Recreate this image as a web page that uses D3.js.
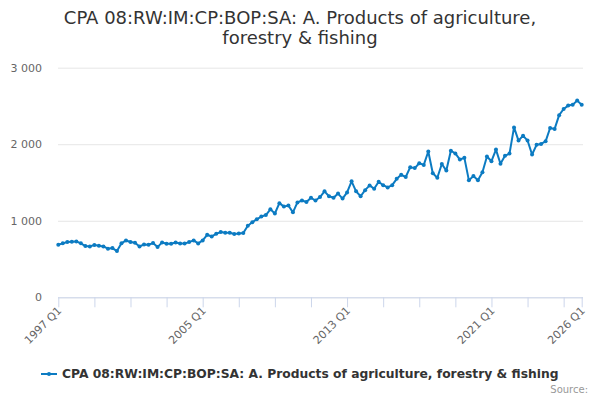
<!DOCTYPE html>
<html lang="en">
<head>
  <meta charset="UTF-8">
  <title>CPA 08:RW:IM:CP:BOP:SA: A. Products of agriculture, forestry &amp; fishing</title>
  <script src="https://d3js.org/d3.v7.min.js"></script>
  <style>
    body { margin: 0; background: #fff; }
    svg { font-family: "DejaVu Sans", Verdana, sans-serif; display: block; }
  </style>
</head>
<body>
  <svg id="chart"></svg>

  <script>
    // Quarterly series, 1997 Q1 .. 2026 Q1
    const firstYear = 1997;
    const quarters = [];
    for (let y = firstYear; y <= 2026; y++) {
      for (let q = 1; q <= 4; q++) {
        if (y === 2026 && q > 1) break;
        quarters.push(y + " Q" + q);
      }
    }

    const values = [
      687, 705, 722, 726, 730, 705, 670, 665, 683, 674, 665, 635, 643, 604, 705, 743,
      722, 713, 665, 690, 687, 708, 656, 717, 700, 700, 717, 704, 704, 721, 743, 704,
      743, 817, 795, 830, 852, 843, 843, 826, 833, 840, 935, 980, 1020, 1055, 1075, 1150,
      1095, 1230, 1185, 1200, 1110, 1240, 1265, 1245, 1300, 1265, 1310, 1385, 1320, 1300, 1355, 1290,
      1370, 1515, 1385, 1320, 1400, 1462, 1418, 1510, 1465, 1435, 1465, 1548, 1600, 1572, 1700, 1688,
      1752, 1730, 1905, 1620, 1562, 1742, 1656, 1915, 1880, 1800, 1822, 1528, 1585, 1530, 1635, 1840,
      1778, 1930, 1745, 1848, 1878, 2220, 2048, 2112, 2048, 1866, 1992, 2004, 2038, 2212, 2200, 2380,
      2460, 2505, 2515, 2570, 2515
    ];

    const yTicks = [0, 1000, 2000, 3000];
    const xTickLabels = ["1997 Q1", "2005 Q1", "2013 Q1", "2021 Q1", "2026 Q1"];

    const seriesName = "CPA 08:RW:IM:CP:BOP:SA: A. Products of agriculture, forestry & fishing";
    const titleLines = ["CPA 08:RW:IM:CP:BOP:SA: A. Products of agriculture,", "forestry & fishing"];

    const data = quarters.map((q, i) => ({ q: q, v: values[i] }));

    const width = 600, height = 400;
    const lineColor = "#0c7bc2";

    const svg = d3.select("#chart")
      .attr("width", width)
      .attr("height", height);

    const x = d3.scalePoint()
      .domain(quarters)
      .range([58.3, 581.7]);

    const y = d3.scaleLinear()
      .domain([0, 3000])
      .range([297.3, 67.7]);

    // title
    svg.append("text")
      .attr("x", width / 2)
      .attr("y", 23.5)
      .attr("text-anchor", "middle")
      .style("font-size", "18px")
      .style("fill", "#333")
      .selectAll("tspan")
      .data(titleLines)
      .enter().append("tspan")
      .attr("x", width / 2)
      .attr("dy", (d, i) => i === 0 ? 0 : 20.5)
      .text(d => d);

    // gridlines + y labels
    const yAxis = svg.append("g")
      .attr("transform", "translate(58,0)")
      .call(d3.axisLeft(y)
        .tickValues(yTicks)
        .tickSize(-525)
        .tickPadding(16)
        .tickFormat(d => d3.format(",")(d).replace(/,/g, " ")));
    yAxis.select(".domain").remove();
    yAxis.selectAll("line").attr("stroke", "#e6e6e6");
    yAxis.selectAll("text")
      .attr("fill", "#666")
      .style("font-size", "11px")
      .style("font-family", "DejaVu Sans, sans-serif");

    // x axis: a tick every 2 years plus the last quarter
    const xTickVals = quarters.filter((q, i) => i % 8 === 0 || i === quarters.length - 1);
    const xAxis = svg.append("g")
      .attr("transform", "translate(0," + y(0) + ")")
      .call(d3.axisBottom(x)
        .tickValues(xTickVals)
        .tickSize(10)
        .tickSizeOuter(0)
        .tickFormat(""));
    xAxis.select(".domain").attr("stroke", "#ccd6eb").attr("d", "M58,0.5H583");
    xAxis.selectAll("line").attr("stroke", "#ccd6eb");

    svg.append("g")
      .selectAll("text")
      .data(xTickLabels)
      .enter().append("text")
      .attr("transform", d => "translate(" + (x(d) + 4) + "," + (y(0) + 14) + ") rotate(-45)")
      .attr("text-anchor", "end")
      .style("font-size", "11px")
      .style("fill", "#666")
      .text(d => d);

    // series
    const line = d3.line()
      .x(d => x(d.q))
      .y(d => y(d.v));

    svg.append("path")
      .datum(data)
      .attr("fill", "none")
      .attr("stroke", lineColor)
      .attr("stroke-width", 2)
      .attr("stroke-linejoin", "round")
      .attr("d", line);

    svg.append("g")
      .selectAll("circle")
      .data(data)
      .enter().append("circle")
      .attr("cx", d => x(d.q))
      .attr("cy", d => y(d.v))
      .attr("r", 2)
      .attr("fill", lineColor);

    // legend
    const legend = svg.append("g").attr("transform", "translate(41,374)");
    legend.append("line")
      .attr("x1", 0).attr("x2", 16)
      .attr("stroke", lineColor)
      .attr("stroke-width", 2);
    legend.append("circle")
      .attr("cx", 8).attr("r", 2)
      .attr("fill", lineColor);
    legend.append("text")
      .attr("x", 21)
      .attr("y", 4)
      .style("font-size", "12.3px")
      .style("font-weight", "bold")
      .style("fill", "#333")
      .text(seriesName);

    // credits
    svg.append("text")
      .attr("x", 588)
      .attr("y", 393)
      .attr("text-anchor", "end")
      .style("font-size", "10px")
      .style("fill", "#999")
      .text("Source:");
  </script>
</body>
</html>
